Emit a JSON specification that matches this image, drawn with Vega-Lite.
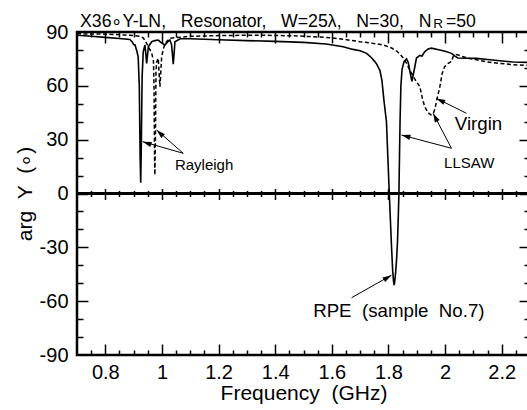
{
"$schema": "https://vega.github.io/schema/vega-lite/v6.json",
"width": 453, "height": 323,
"autosize": "none",
"padding": {"left": 77, "top": 32, "right": 0, "bottom": 55},
"background": "white",
"config": {
 "font": "Liberation Sans",
 "view": {"stroke": "black", "strokeWidth": 2.5},
 "axis": {"domain": false, "grid": false, "tickColor": "black", "tickWidth": 1.5, "labelColor": "black", "labelFont": "Liberation Sans", "titleFont": "Liberation Sans", "titleColor": "black", "titleFontWeight": "normal", "labelFlush": false, "labelOverlap": false}
},
"resolve": {"axis": {"x": "independent", "y": "independent"}},
"datasets": {
 "curves": [
{"f":0.70,"d":88.2,"s":"RPE"},{"f":0.75,"d":87.6,"s":"RPE"},{"f":0.80,"d":87.0,"s":"RPE"},{"f":0.85,"d":86.4,"s":"RPE"},{"f":0.887,"d":85.8,"s":"RPE"},{"f":0.895,"d":84.5,"s":"RPE"},{"f":0.90,"d":83.0,"s":"RPE"},{"f":0.905,"d":82.8,"s":"RPE"},{"f":0.912,"d":79,"s":"RPE"},{"f":0.916,"d":76.2,"s":"RPE"},{"f":0.920,"d":60,"s":"RPE"},{"f":0.923,"d":20,"s":"RPE"},{"f":0.925,"d":6,"s":"RPE"},{"f":0.927,"d":25,"s":"RPE"},{"f":0.930,"d":65,"s":"RPE"},{"f":0.934,"d":79,"s":"RPE"},{"f":0.940,"d":82.8,"s":"RPE"},{"f":0.943,"d":78,"s":"RPE"},{"f":0.946,"d":72.5,"s":"RPE"},{"f":0.949,"d":77,"s":"RPE"},{"f":0.952,"d":81.8,"s":"RPE"},{"f":0.964,"d":84.6,"s":"RPE"},{"f":0.975,"d":85.2,"s":"RPE"},{"f":0.987,"d":85.5,"s":"RPE"},{"f":0.998,"d":84,"s":"RPE"},{"f":1.011,"d":82.8,"s":"RPE"},{"f":1.020,"d":84.5,"s":"RPE"},{"f":1.028,"d":85.5,"s":"RPE"},{"f":1.034,"d":83,"s":"RPE"},{"f":1.038,"d":76,"s":"RPE"},{"f":1.040,"d":72,"s":"RPE"},{"f":1.043,"d":78,"s":"RPE"},{"f":1.046,"d":84.6,"s":"RPE"},{"f":1.064,"d":86.2,"s":"RPE"},{"f":1.10,"d":86.2,"s":"RPE"},{"f":1.20,"d":85.7,"s":"RPE"},{"f":1.30,"d":85.2,"s":"RPE"},{"f":1.40,"d":84.8,"s":"RPE"},{"f":1.50,"d":84.2,"s":"RPE"},{"f":1.58,"d":83.3,"s":"RPE"},{"f":1.64,"d":81.8,"s":"RPE"},{"f":1.675,"d":80.3,"s":"RPE"},{"f":1.70,"d":79.6,"s":"RPE"},{"f":1.723,"d":78.1,"s":"RPE"},{"f":1.741,"d":75.5,"s":"RPE"},{"f":1.752,"d":73.5,"s":"RPE"},{"f":1.759,"d":72,"s":"RPE"},{"f":1.770,"d":68.5,"s":"RPE"},{"f":1.777,"d":63,"s":"RPE"},{"f":1.784,"d":52,"s":"RPE"},{"f":1.793,"d":40,"s":"RPE"},{"f":1.798,"d":20,"s":"RPE"},{"f":1.802,"d":4,"s":"RPE"},{"f":1.807,"d":-15,"s":"RPE"},{"f":1.811,"d":-30,"s":"RPE"},{"f":1.815,"d":-43,"s":"RPE"},{"f":1.818,"d":-49,"s":"RPE"},{"f":1.820,"d":-51,"s":"RPE"},{"f":1.822,"d":-49.5,"s":"RPE"},{"f":1.826,"d":-43,"s":"RPE"},{"f":1.829,"d":-36,"s":"RPE"},{"f":1.832,"d":-27,"s":"RPE"},{"f":1.835,"d":-12,"s":"RPE"},{"f":1.837,"d":0,"s":"RPE"},{"f":1.839,"d":20,"s":"RPE"},{"f":1.841,"d":40,"s":"RPE"},{"f":1.844,"d":60,"s":"RPE"},{"f":1.848,"d":69,"s":"RPE"},{"f":1.855,"d":73.5,"s":"RPE"},{"f":1.864,"d":75,"s":"RPE"},{"f":1.870,"d":73,"s":"RPE"},{"f":1.876,"d":68,"s":"RPE"},{"f":1.883,"d":62.5,"s":"RPE"},{"f":1.890,"d":68,"s":"RPE"},{"f":1.899,"d":75.5,"s":"RPE"},{"f":1.911,"d":77,"s":"RPE"},{"f":1.918,"d":76.5,"s":"RPE"},{"f":1.928,"d":79,"s":"RPE"},{"f":1.94,"d":80.5,"s":"RPE"},{"f":1.952,"d":81,"s":"RPE"},{"f":1.981,"d":80,"s":"RPE"},{"f":2.00,"d":79.3,"s":"RPE"},{"f":2.023,"d":78.1,"s":"RPE"},{"f":2.035,"d":76.5,"s":"RPE"},{"f":2.045,"d":75.5,"s":"RPE"},{"f":2.111,"d":75.3,"s":"RPE"},{"f":2.15,"d":74.7,"s":"RPE"},{"f":2.193,"d":74,"s":"RPE"},{"f":2.24,"d":73.3,"s":"RPE"},{"f":2.30,"d":73,"s":"RPE"},
{"f":0.70,"d":89,"s":"Virgin"},{"f":0.80,"d":88.8,"s":"Virgin"},{"f":0.887,"d":88.2,"s":"Virgin"},{"f":0.92,"d":87.6,"s":"Virgin"},{"f":0.934,"d":86.8,"s":"Virgin"},{"f":0.946,"d":83.7,"s":"Virgin"},{"f":0.958,"d":80,"s":"Virgin"},{"f":0.964,"d":78.1,"s":"Virgin"},{"f":0.970,"d":74,"s":"Virgin"},{"f":0.972,"d":60,"s":"Virgin"},{"f":0.974,"d":20,"s":"Virgin"},{"f":0.975,"d":10.3,"s":"Virgin"},{"f":0.977,"d":30,"s":"Virgin"},{"f":0.979,"d":68,"s":"Virgin"},{"f":0.981,"d":73,"s":"Virgin"},{"f":0.987,"d":75.3,"s":"Virgin"},{"f":0.990,"d":67,"s":"Virgin"},{"f":0.993,"d":59.5,"s":"Virgin"},{"f":0.996,"d":68,"s":"Virgin"},{"f":0.999,"d":76.2,"s":"Virgin"},{"f":1.005,"d":80.5,"s":"Virgin"},{"f":1.011,"d":83.7,"s":"Virgin"},{"f":1.028,"d":86.5,"s":"Virgin"},{"f":1.10,"d":87.6,"s":"Virgin"},{"f":1.20,"d":88,"s":"Virgin"},{"f":1.30,"d":88.2,"s":"Virgin"},{"f":1.40,"d":88.1,"s":"Virgin"},{"f":1.48,"d":87.8,"s":"Virgin"},{"f":1.58,"d":87,"s":"Virgin"},{"f":1.64,"d":86,"s":"Virgin"},{"f":1.699,"d":84.6,"s":"Virgin"},{"f":1.74,"d":83.8,"s":"Virgin"},{"f":1.781,"d":82.8,"s":"Virgin"},{"f":1.81,"d":81.2,"s":"Virgin"},{"f":1.832,"d":79,"s":"Virgin"},{"f":1.850,"d":76,"s":"Virgin"},{"f":1.864,"d":72.5,"s":"Virgin"},{"f":1.875,"d":69,"s":"Virgin"},{"f":1.885,"d":66,"s":"Virgin"},{"f":1.900,"d":62,"s":"Virgin"},{"f":1.911,"d":59.5,"s":"Virgin"},{"f":1.920,"d":53,"s":"Virgin"},{"f":1.928,"d":48.4,"s":"Virgin"},{"f":1.940,"d":45,"s":"Virgin"},{"f":1.950,"d":43.8,"s":"Virgin"},{"f":1.958,"d":44.5,"s":"Virgin"},{"f":1.964,"d":47,"s":"Virgin"},{"f":1.972,"d":53,"s":"Virgin"},{"f":1.981,"d":59,"s":"Virgin"},{"f":1.990,"d":67,"s":"Virgin"},{"f":1.998,"d":70.5,"s":"Virgin"},{"f":2.011,"d":72.5,"s":"Virgin"},{"f":2.023,"d":73.6,"s":"Virgin"},{"f":2.029,"d":76.5,"s":"Virgin"},{"f":2.040,"d":77.4,"s":"Virgin"},{"f":2.046,"d":77.2,"s":"Virgin"},{"f":2.060,"d":76.4,"s":"Virgin"},{"f":2.08,"d":75.5,"s":"Virgin"},{"f":2.111,"d":74.5,"s":"Virgin"},{"f":2.15,"d":73.3,"s":"Virgin"},{"f":2.193,"d":72.5,"s":"Virgin"},{"f":2.24,"d":71.8,"s":"Virgin"},{"f":2.30,"d":71.3,"s":"Virgin"}
 ]
},
"data": {"name": "curves"},
"layer": [
 {"mark": {"type": "rule", "color": "black", "strokeWidth": 1.5},
  "encoding": {"y": {"datum": 0, "type": "quantitative", "scale": {"domain": [-90, 90], "nice": false, "zero": false}, "axis": null}}},
 {"transform": [{"filter": "datum.s === 'Virgin'"}],
  "mark": {"type": "line", "color": "black", "strokeWidth": 1.5, "strokeDash": [4, 2.5]},
  "encoding": {
   "x": {"field": "f", "type": "quantitative", "scale": {"domain": [0.7, 2.3], "nice": false, "zero": false}, "axis": null},
   "y": {"field": "d", "type": "quantitative", "scale": {"domain": [-90, 90], "nice": false, "zero": false}, "axis": null}}},
 {"transform": [{"filter": "datum.s === 'RPE'"}],
  "mark": {"type": "line", "color": "black", "strokeWidth": 1.6},
  "encoding": {
   "x": {"field": "f", "type": "quantitative", "scale": {"domain": [0.7, 2.3], "nice": false, "zero": false},
    "axis": {"orient": "bottom", "values": [0.8, 1, 1.2, 1.4, 1.6, 1.8, 2, 2.2], "ticks": false, "labelFontSize": 20, "labelPadding": 7, "labelExpr": "'' + datum.value", "title": "Frequency \u00a0(GHz)", "titleFontSize": 21, "titlePadding": 0}},
   "y": {"field": "d", "type": "quantitative", "scale": {"domain": [-90, 90], "nice": false, "zero": false},
    "axis": {"orient": "left", "values": [-90, -60, -30, 0, 30, 60, 90], "ticks": false, "labelFontSize": 20, "labelPadding": 9, "labelExpr": "datum.value < 0 ? '-' + abs(datum.value) : '' + datum.value", "title": "arg \u00a0Y \u00a0(\u2218)", "titleFontSize": 21, "titlePadding": 4}}}},
 {"mark": {"type": "point", "opacity": 0},
  "encoding": {
   "x": {"field": "f", "type": "quantitative", "scale": {"domain": [0.7, 2.3], "nice": false, "zero": false},
    "axis": {"orient": "bottom", "values": [0.8, 1, 1.2, 1.4, 1.6, 1.8, 2, 2.2], "tickSize": -11, "labels": false, "title": null}},
   "y": {"field": "d", "type": "quantitative", "scale": {"domain": [-90, 90], "nice": false, "zero": false},
    "axis": {"orient": "left", "values": [-60, -30, 0, 30, 60], "tickSize": -11, "labels": false, "title": null}}}},
 {"mark": {"type": "point", "opacity": 0},
  "encoding": {
   "x": {"field": "f", "type": "quantitative", "scale": {"domain": [0.7, 2.3], "nice": false, "zero": false},
    "axis": {"orient": "bottom", "values": [0.75,0.85,0.9,0.95,1.05,1.1,1.15,1.25,1.3,1.35,1.45,1.5,1.55,1.65,1.7,1.75,1.85,1.9,1.95,2.05,2.1,2.15,2.25], "tickSize": -5, "labels": false, "title": null}},
   "y": {"field": "d", "type": "quantitative", "scale": {"domain": [-90, 90], "nice": false, "zero": false},
    "axis": {"orient": "left", "values": [-80,-70,-50,-40,-20,-10,10,20,40,50,70,80], "tickSize": -6, "labels": false, "title": null}}}},
 {"mark": {"type": "point", "opacity": 0},
  "encoding": {
   "x": {"field": "f", "type": "quantitative", "scale": {"domain": [0.7, 2.3], "nice": false, "zero": false},
    "axis": {"orient": "top", "values": [0.8, 1, 1.2, 1.4, 1.6, 1.8, 2, 2.2], "tickSize": -11, "labels": false, "title": null}},
   "y": {"field": "d", "type": "quantitative", "scale": {"domain": [-90, 90], "nice": false, "zero": false},
    "axis": {"orient": "right", "values": [-60, -30, 0, 30, 60], "tickSize": -11, "labels": false, "title": null}}}},
 {"mark": {"type": "point", "opacity": 0},
  "encoding": {
   "x": {"field": "f", "type": "quantitative", "scale": {"domain": [0.7, 2.3], "nice": false, "zero": false},
    "axis": {"orient": "top", "values": [0.75,0.85,0.9,0.95,1.05,1.1,1.15,1.25,1.3,1.35,1.45,1.5,1.55,1.65,1.7,1.75,1.85,1.9,1.95,2.05,2.1,2.15,2.25], "tickSize": -5, "labels": false, "title": null}},
   "y": {"field": "d", "type": "quantitative", "scale": {"domain": [-90, 90], "nice": false, "zero": false},
    "axis": {"orient": "right", "values": [-80,-70,-50,-40,-20,-10,10,20,40,50,70,80], "tickSize": -6, "labels": false, "title": null}}}},
 {"mark": {"type": "point", "opacity": 0},
  "encoding": {"x": {"field": "f", "type": "quantitative", "scale": {"domain": [0.7, 2.3], "nice": false, "zero": false},
   "axis": {"orient": "bottom", "offset": -166.5, "values": [0.8, 1, 1.2, 1.4, 1.6, 1.8, 2, 2.2], "tickSize": 11, "labels": false, "title": null}}}},
 {"mark": {"type": "point", "opacity": 0},
  "encoding": {"x": {"field": "f", "type": "quantitative", "scale": {"domain": [0.7, 2.3], "nice": false, "zero": false},
   "axis": {"orient": "bottom", "offset": -164.5, "values": [0.75,0.85,0.9,0.95,1.05,1.1,1.15,1.25,1.3,1.35,1.45,1.5,1.55,1.65,1.7,1.75,1.85,1.9,1.95,2.05,2.1,2.15,2.25], "tickSize": 6, "labels": false, "title": null}}}},
 {"data": {"values": [{"f1":1.0752,"d1":22.4,"f2":0.9319,"d2":28.9},{"f1":1.0752,"d1":22.4,"f2":0.9813,"d2":35.4},{"f1":2.0226,"d1":25.2,"f2":1.8461,"d2":32.6},{"f1":2.0226,"d1":25.2,"f2":1.9577,"d2":44.7},{"f1":2.0756,"d1":44.7,"f2":1.9695,"d2":53.0},{"f1":1.6697,"d1":-58.1,"f2":1.8108,"d2":-45.5}]},
  "mark": {"type": "rule", "color": "black", "strokeWidth": 1},
  "encoding": {
   "x": {"field": "f1", "type": "quantitative", "scale": {"domain": [0.7, 2.3], "nice": false, "zero": false}, "axis": null},
   "y": {"field": "d1", "type": "quantitative", "scale": {"domain": [-90, 90], "nice": false, "zero": false}, "axis": null},
   "x2": {"field": "f2"}, "y2": {"field": "d2"}}},
 {"data": {"values": [{"f":0.9319,"d":28.9}]}, "mark": {"type": "point", "shape": "M0,0L-1.2,4L1.2,4Z", "size": 20, "filled": true, "color": "black", "opacity": 1, "strokeWidth": 0, "angle": 288.4},
  "encoding": {"x": {"field": "f", "type": "quantitative", "axis": null}, "y": {"field": "d", "type": "quantitative", "axis": null}}},
 {"data": {"values": [{"f":0.9813,"d":35.4}]}, "mark": {"type": "point", "shape": "M0,0L-1.2,4L1.2,4Z", "size": 20, "filled": true, "color": "black", "opacity": 1, "strokeWidth": 0, "angle": 313.9},
  "encoding": {"x": {"field": "f", "type": "quantitative", "axis": null}, "y": {"field": "d", "type": "quantitative", "axis": null}}},
 {"data": {"values": [{"f":1.8461,"d":32.6}]}, "mark": {"type": "point", "shape": "M0,0L-1.2,4L1.2,4Z", "size": 20, "filled": true, "color": "black", "opacity": 1, "strokeWidth": 0, "angle": 284.9},
  "encoding": {"x": {"field": "f", "type": "quantitative", "axis": null}, "y": {"field": "d", "type": "quantitative", "axis": null}}},
 {"data": {"values": [{"f":1.9577,"d":44.7}]}, "mark": {"type": "point", "shape": "M0,0L-1.2,4L1.2,4Z", "size": 20, "filled": true, "color": "black", "opacity": 1, "strokeWidth": 0, "angle": 332.3},
  "encoding": {"x": {"field": "f", "type": "quantitative", "axis": null}, "y": {"field": "d", "type": "quantitative", "axis": null}}},
 {"data": {"values": [{"f":1.9695,"d":53.0}]}, "mark": {"type": "point", "shape": "M0,0L-1.2,4L1.2,4Z", "size": 20, "filled": true, "color": "black", "opacity": 1, "strokeWidth": 0, "angle": 296.6},
  "encoding": {"x": {"field": "f", "type": "quantitative", "axis": null}, "y": {"field": "d", "type": "quantitative", "axis": null}}},
 {"data": {"values": [{"f":1.8108,"d":-45.5}]}, "mark": {"type": "point", "shape": "M0,0L-1.2,4L1.2,4Z", "size": 20, "filled": true, "color": "black", "opacity": 1, "strokeWidth": 0, "angle": 59.1},
  "encoding": {"x": {"field": "f", "type": "quantitative", "axis": null}, "y": {"field": "d", "type": "quantitative", "axis": null}}},
 {"data": {"values": [{"t":"Rayleigh","f":1.0459,"d":13.1},{"t":"LLSAW","f":1.9965,"d":14.0}]},
  "mark": {"type": "text", "align": "left", "baseline": "alphabetic", "fontSize": 15, "font": "Liberation Sans", "color": "black"},
  "encoding": {"x": {"field": "f", "type": "quantitative", "axis": null}, "y": {"field": "d", "type": "quantitative", "axis": null}, "text": {"field": "t"}}},
 {"data": {"values": [{"t":"Virgin","f":2.0343,"d":35.4},{"t":"RPE \u00a0(sample \u00a0No.7)","f":1.5341,"d":-68.7}]},
  "mark": {"type": "text", "align": "left", "baseline": "alphabetic", "fontSize": 18.7, "font": "Liberation Sans", "color": "black"},
  "encoding": {"x": {"field": "f", "type": "quantitative", "axis": null}, "y": {"field": "d", "type": "quantitative", "axis": null}, "text": {"field": "t"}}},
 {"data": {"values": [{"t":"X36\u2218Y-LN, \u00a0 Resonator, \u00a0 W=25\u03bb, \u00a0 N=30, \u00a0 N","f":0.7106,"d":92.8},{"t":"=50","f":2.003,"d":92.8}]},
  "mark": {"type": "text", "align": "left", "baseline": "alphabetic", "fontSize": 17.7, "font": "Liberation Sans", "color": "black"},
  "encoding": {"x": {"field": "f", "type": "quantitative", "axis": null}, "y": {"field": "d", "type": "quantitative", "axis": null}, "text": {"field": "t"}}},
 {"data": {"values": [{"t":"R","f":1.958,"d":92.0}]},
  "mark": {"type": "text", "align": "left", "baseline": "alphabetic", "fontSize": 13.5, "font": "Liberation Sans", "color": "black"},
  "encoding": {"x": {"field": "f", "type": "quantitative", "axis": null}, "y": {"field": "d", "type": "quantitative", "axis": null}, "text": {"field": "t"}}}
]
}
